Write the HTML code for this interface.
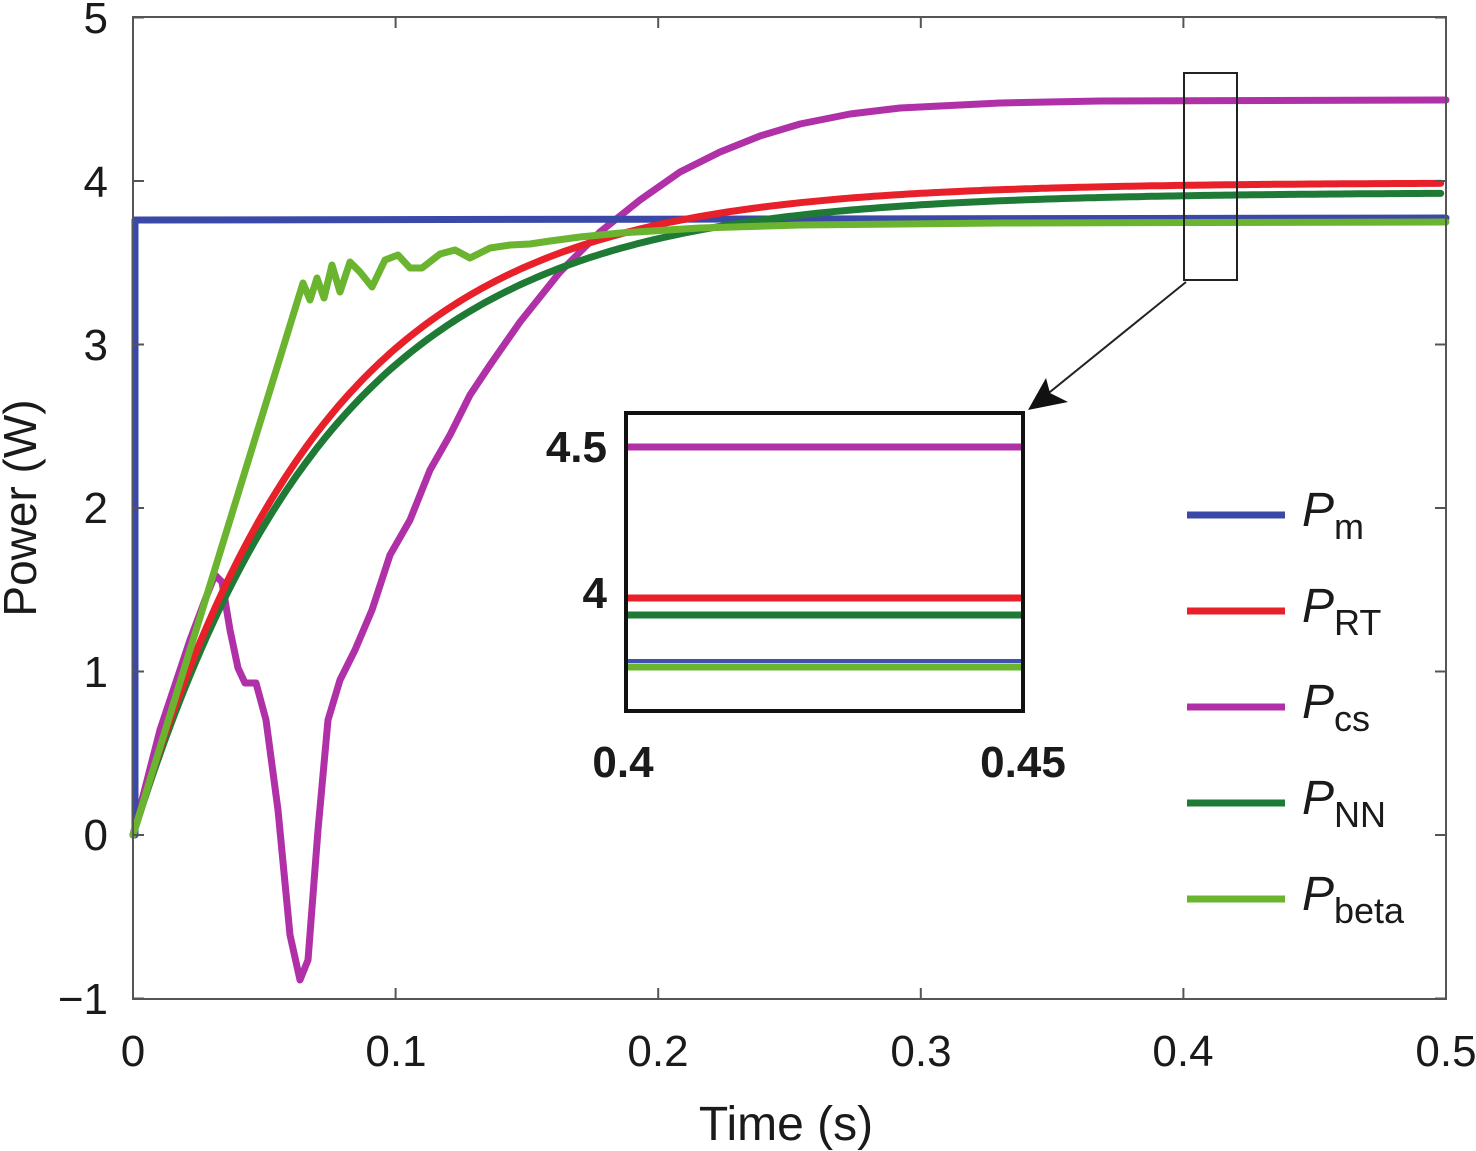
<!DOCTYPE html>
<html><head><meta charset="utf-8"><style>
html,body{margin:0;padding:0;background:#fff;}
svg{display:block;}
text{font-family:"Liberation Sans",Arial,sans-serif;fill:#1a1a1a;}
</style></head><body>
<svg id="s" width="1476" height="1151" viewBox="0 0 1476 1151" xmlns="http://www.w3.org/2000/svg">
<rect x="0" y="0" width="1476" height="1151" fill="#fff"/>
<g id="curves" fill="none" stroke-width="7" stroke-linejoin="round" stroke-linecap="round"></g>
<rect x="133" y="17" width="1313" height="982" fill="none" stroke="#555" stroke-width="2"/>
<g id="ticks" stroke="#555" stroke-width="2"></g>
<g font-size="44">
<text x="108" y="33" text-anchor="end">5</text>
<text x="108" y="197" text-anchor="end">4</text>
<text x="108" y="360" text-anchor="end">3</text>
<text x="108" y="523" text-anchor="end">2</text>
<text x="108" y="687" text-anchor="end">1</text>
<text x="108" y="850" text-anchor="end">0</text>
<text x="108" y="1014" text-anchor="end">−1</text>
<text x="133" y="1066" text-anchor="middle">0</text>
<text x="396" y="1066" text-anchor="middle">0.1</text>
<text x="658" y="1066" text-anchor="middle">0.2</text>
<text x="921" y="1066" text-anchor="middle">0.3</text>
<text x="1183" y="1066" text-anchor="middle">0.4</text>
<text x="1446" y="1066" text-anchor="middle">0.5</text>
<text x="786" y="1140" text-anchor="middle" font-size="48">Time (s)</text>
<text transform="translate(36,508) rotate(-90)" text-anchor="middle" font-size="46">Power (W)</text>
</g>
<rect x="1184" y="73" width="53" height="207" fill="none" stroke="#222" stroke-width="2"/>
<line x1="1186" y1="282" x2="1045" y2="396" stroke="#222" stroke-width="2"/>
<polygon points="1028,410 1046,378 1050,393 1068,402" fill="#111"/>
<g stroke-width="7">
<line x1="628" y1="447" x2="1021" y2="447" stroke="#b030a8"/>
<line x1="628" y1="598" x2="1021" y2="598" stroke="#e8202a"/>
<line x1="628" y1="615" x2="1021" y2="615" stroke="#1e7a35"/>
<line x1="628" y1="661" x2="1021" y2="661" stroke="#4050b0" stroke-width="4"/>
<line x1="628" y1="667" x2="1021" y2="667" stroke="#6ab430"/>
</g>
<rect x="626" y="413" width="397" height="298" fill="none" stroke="#111" stroke-width="4"/>
<g font-size="44" font-weight="bold">
<text x="607" y="462" text-anchor="end">4.5</text>
<text x="607" y="608" text-anchor="end">4</text>
<text x="623" y="777" text-anchor="middle">0.4</text>
<text x="1023" y="777" text-anchor="middle">0.45</text>
</g>
<g stroke-width="7">
<line x1="1187" y1="515" x2="1285" y2="515" stroke="#3a48a8"/>
<line x1="1187" y1="611" x2="1285" y2="611" stroke="#e8202a"/>
<line x1="1187" y1="707" x2="1285" y2="707" stroke="#b030a8"/>
<line x1="1187" y1="803" x2="1285" y2="803" stroke="#1e7a35"/>
<line x1="1187" y1="899" x2="1285" y2="899" stroke="#6ab430"/>
</g>
<g font-size="48">
<text x="1302" y="526"><tspan font-style="italic">P</tspan><tspan font-size="36" dy="13">m</tspan></text>
<text x="1302" y="622"><tspan font-style="italic">P</tspan><tspan font-size="36" dy="13">RT</tspan></text>
<text x="1302" y="718"><tspan font-style="italic">P</tspan><tspan font-size="36" dy="13">cs</tspan></text>
<text x="1302" y="814"><tspan font-style="italic">P</tspan><tspan font-size="36" dy="13">NN</tspan></text>
<text x="1302" y="910"><tspan font-style="italic">P</tspan><tspan font-size="36" dy="13">beta</tspan></text>
</g>
<script>
(function(){
var NS="http://www.w3.org/2000/svg";
var X=function(t){return 133+t*2626;}, Y=function(v){return 835-163.5*v;};
var g=document.getElementById("curves");
function add(pts,col,w){var p=document.createElementNS(NS,"polyline");
p.setAttribute("points",pts.map(function(a){return a[0].toFixed(1)+","+a[1].toFixed(1);}).join(" "));
p.setAttribute("stroke",col);if(w)p.setAttribute("stroke-width",w);g.appendChild(p);}
function expo(fin,tau){var a=[];for(var t=0;t<=0.5;t+=0.002){a.push([X(t),Y(fin*(1-Math.exp(-t/tau)))]);}return a;}
add([[133,835],[160,730],[190,640],[205,600],[215,575],[222,582],[230,630],[238,668],[245,683],[256,683],[266,720],[278,810],[290,935],[300,980],[308,960],[318,830],[328,720],[340,680],[355,650],[372,610],[390,555],[410,520],[430,470],[450,435],[470,395],[490,365],[520,322],[560,272],[600,232],[640,200],[680,172],[720,152],[760,136],[800,124],[850,114],[900,108],[1000,103],[1100,101],[1446,100]],"#b030a8");
add([[135,835],[135,220],[1446,218]],"#3a48a8");
add(expo(3.93,0.076),"#1e7a35");
add(expo(3.99,0.073),"#e8202a");
add([[133,835],[303,283],[310,300],[317,278],[324,298],[332,265],[340,292],[350,262],[360,272],[372,287],[385,260],[398,255],[410,268],[422,268],[440,254],[455,250],[470,258],[490,248],[510,245],[530,244],[550,241],[580,237],[620,233],[700,228],[800,225],[1000,223],[1446,222]],"#6ab430");
var tk=document.getElementById("ticks");
function ln(a,b,c,d){var l=document.createElementNS(NS,"line");l.setAttribute("x1",a);l.setAttribute("y1",b);l.setAttribute("x2",c);l.setAttribute("y2",d);tk.appendChild(l);}
for(var i=0;i<=5;i++){var x=X(i*0.1);ln(x,999,x,988);ln(x,17,x,28);}
for(var v=-1;v<=5;v++){var y=Y(v);ln(133,y,144,y);ln(1446,y,1435,y);}
})();
</script>
</svg>
</body></html>
